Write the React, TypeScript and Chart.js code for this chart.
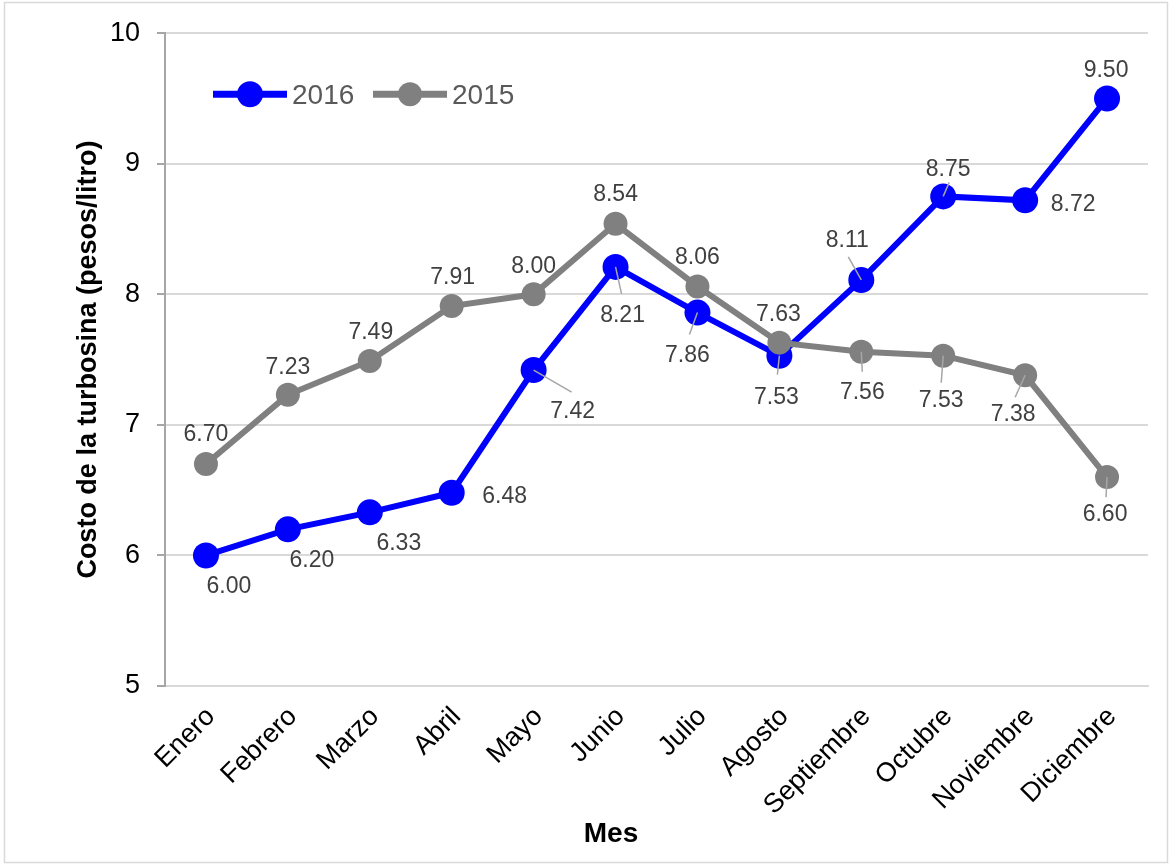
import React, { useEffect, useRef } from "react";
import { Chart, registerables } from "chart.js";

Chart.register(...registerables);

// ---------- data ----------
const months = [
  "Enero", "Febrero", "Marzo", "Abril", "Mayo", "Junio",
  "Julio", "Agosto", "Septiembre", "Octubre", "Noviembre", "Diciembre",
];
const values2016 = [6.0, 6.2, 6.33, 6.48, 7.42, 8.21, 7.86, 7.53, 8.11, 8.75, 8.72, 9.5];
const values2015 = [6.7, 7.23, 7.49, 7.91, 8.0, 8.54, 8.06, 7.63, 7.56, 7.53, 7.38, 6.6];
const seriesNames = ["2016", "2015"];
const yMin = 5;
const yMax = 10;
const yStep = 1;
const yTitle = "Costo de la turbosina (pesos/litro)";
const xTitle = "Mes";

// ---------- label placement (styling: pixel offsets from each point) ----------
const labelOffsets2016: [number, number][] = [
  [23, 29], [24, 29], [29, 29], [53, 2], [39, 40], [7, 47],
  [-10, 41], [-3, 40], [-14, -41], [5, -29], [48, 2], [-1, -30],
];
const leaders2016: ([number, number] | null)[] = [
  null, null, null, null, [38, 22], [6, 27],
  [-8, 22], [-2, 19], [-13, -23], [6, -14], null, null,
];
const labelOffsets2015: [number, number][] = [
  [0, -31], [0, -29], [1, -30], [1, -30], [0, -30], [0, -31],
  [0, -31], [-1, -30], [1, 39], [-2, 43], [-12, 38], [-2, 36],
];
const leaders2015: ([number, number] | null)[] = [
  null, null, null, null, null, null,
  null, null, [1, 20], [-2, 27], [-10, 22], [-1, 20],
];

const FONT = '"Liberation Sans", Arial, Helvetica, sans-serif';
const BLUE = "#0000FF";
const GRAY = "#808080";

const placements = [
  { offsets: labelOffsets2016, leaders: leaders2016 },
  { offsets: labelOffsets2015, leaders: leaders2015 },
];

const overlayPlugin = {
  id: "overlay",
  afterDatasetsDraw(chart: any) {
    const ctx = chart.ctx as CanvasRenderingContext2D;
    ctx.save();
    // leader lines
    chart.data.datasets.forEach((ds: any, i: number) => {
      const meta = chart.getDatasetMeta(i);
      const pl = placements[i];
      meta.data.forEach((pt: any, j: number) => {
        const ld = pl.leaders[j];
        if (!ld) return;
        ctx.beginPath();
        ctx.strokeStyle = "#A6A6A6";
        ctx.lineWidth = 1.5;
        ctx.moveTo(pt.x, pt.y);
        ctx.lineTo(pt.x + ld[0], pt.y + ld[1]);
        ctx.stroke();
      });
    });
    // data labels
    ctx.font = `23px ${FONT}`;
    ctx.fillStyle = "#404040";
    ctx.textAlign = "center";
    ctx.textBaseline = "alphabetic";
    chart.data.datasets.forEach((ds: any, i: number) => {
      const meta = chart.getDatasetMeta(i);
      const pl = placements[i];
      meta.data.forEach((pt: any, j: number) => {
        const off = pl.offsets[j];
        const v = ds.data[j] as number;
        ctx.fillText(v.toFixed(2), pt.x + off[0], pt.y + off[1] + 8.2);
      });
    });
    ctx.restore();
  },
  afterDraw(chart: any) {
    const ctx = chart.ctx as CanvasRenderingContext2D;
    const area = chart.chartArea;
    ctx.save();
    // outer frame
    ctx.strokeStyle = "#D9D9D9";
    ctx.lineWidth = 1.5;
    ctx.strokeRect(4.5, 2.5, chart.width - 7, chart.height - 5);

    // axis titles
    ctx.fillStyle = "#000000";
    ctx.font = `bold 27px ${FONT}`;
    ctx.save();
    ctx.translate(89, (area.top + area.bottom) / 2);
    ctx.rotate(-Math.PI / 2);
    ctx.textAlign = "center";
    ctx.textBaseline = "middle";
    ctx.fillText(yTitle, 0, 0);
    ctx.restore();

    ctx.font = `bold 28px ${FONT}`;
    ctx.textAlign = "center";
    ctx.textBaseline = "alphabetic";
    ctx.fillText(xTitle, area.left + 446, area.bottom + 156);

    // legend
    const ly = area.top + 61;
    const items = chart.data.datasets.map((ds: any) => ({
      label: ds.label,
      color: ds.borderColor,
      r: ds.pointRadius,
    }));
    const starts = [area.left + 48, area.left + 208];
    items.forEach((it: any, k: number) => {
      const x0 = starts[k];
      ctx.beginPath();
      ctx.strokeStyle = it.color;
      ctx.lineWidth = 7;
      ctx.moveTo(x0, ly);
      ctx.lineTo(x0 + 74, ly);
      ctx.stroke();
      ctx.beginPath();
      ctx.fillStyle = it.color;
      ctx.arc(x0 + 37, ly, it.r, 0, Math.PI * 2);
      ctx.fill();
      ctx.fillStyle = "#595959";
      ctx.font = `28px ${FONT}`;
      ctx.textAlign = "left";
      ctx.textBaseline = "alphabetic";
      ctx.fillText(it.label, x0 + 79, ly + 10);
    });
    ctx.restore();
  },
};

export default function App() {
  const canvasRef = useRef<HTMLCanvasElement | null>(null);

  useEffect(() => {
    if (!canvasRef.current) return;
    const chart = new Chart(canvasRef.current, {
      type: "line",
      data: {
        labels: months,
        datasets: [
          {
            label: seriesNames[0],
            data: values2016,
            borderColor: BLUE,
            backgroundColor: BLUE,
            pointBackgroundColor: BLUE,
            pointBorderColor: BLUE,
            borderWidth: 6,
            pointRadius: 13,
            pointBorderWidth: 0,
            pointHoverRadius: 13,
            tension: 0,
            order: 1,
          },
          {
            label: seriesNames[1],
            data: values2015,
            borderColor: GRAY,
            backgroundColor: GRAY,
            pointBackgroundColor: GRAY,
            pointBorderColor: GRAY,
            borderWidth: 6,
            pointRadius: 12,
            pointBorderWidth: 0,
            pointHoverRadius: 12,
            tension: 0,
            order: 0,
          },
        ],
      },
      options: {
        responsive: false,
        animation: false,
        devicePixelRatio: 1,
        layout: { padding: { left: 0, right: 22, top: 31, bottom: 0 } },
        plugins: {
          legend: { display: false },
          tooltip: { enabled: false },
          title: { display: false },
        },
        scales: {
          x: {
            type: "category",
            offset: true,
            grid: { display: true, color: "rgba(0,0,0,0)", drawTicks: false },
            border: { display: true, color: "#D9D9D9", width: 2 },
            ticks: {
              autoSkip: false,
              minRotation: 45,
              maxRotation: 45,
              padding: 15,
              labelOffset: 5,
              color: "#000000",
              font: { family: FONT, size: 27 },
            },
            afterFit: (scale: any) => {
              scale.height = 179;
            },
          },
          y: {
            min: yMin,
            max: yMax,
            ticks: {
              stepSize: yStep,
              padding: 17,
              color: "#000000",
              font: { family: FONT, size: 27 },
            },
            grid: {
              color: "#D9D9D9",
              lineWidth: 2,
              tickColor: "#A6A6A6",
              tickLength: 8,
              drawTicks: true,
            },
            border: { display: true, color: "#A6A6A6", width: 2 },
            afterFit: (scale: any) => {
              scale.width = 165;
            },
          },
        },
      },
      plugins: [overlayPlugin],
    });
    return () => chart.destroy();
  }, []);

  return (
    <div style={{ position: "absolute", left: 0, top: 0, width: 1170, height: 865, background: "#fff" }}>
      <canvas ref={canvasRef} width={1170} height={865} style={{ display: "block" }} />
    </div>
  );
}
